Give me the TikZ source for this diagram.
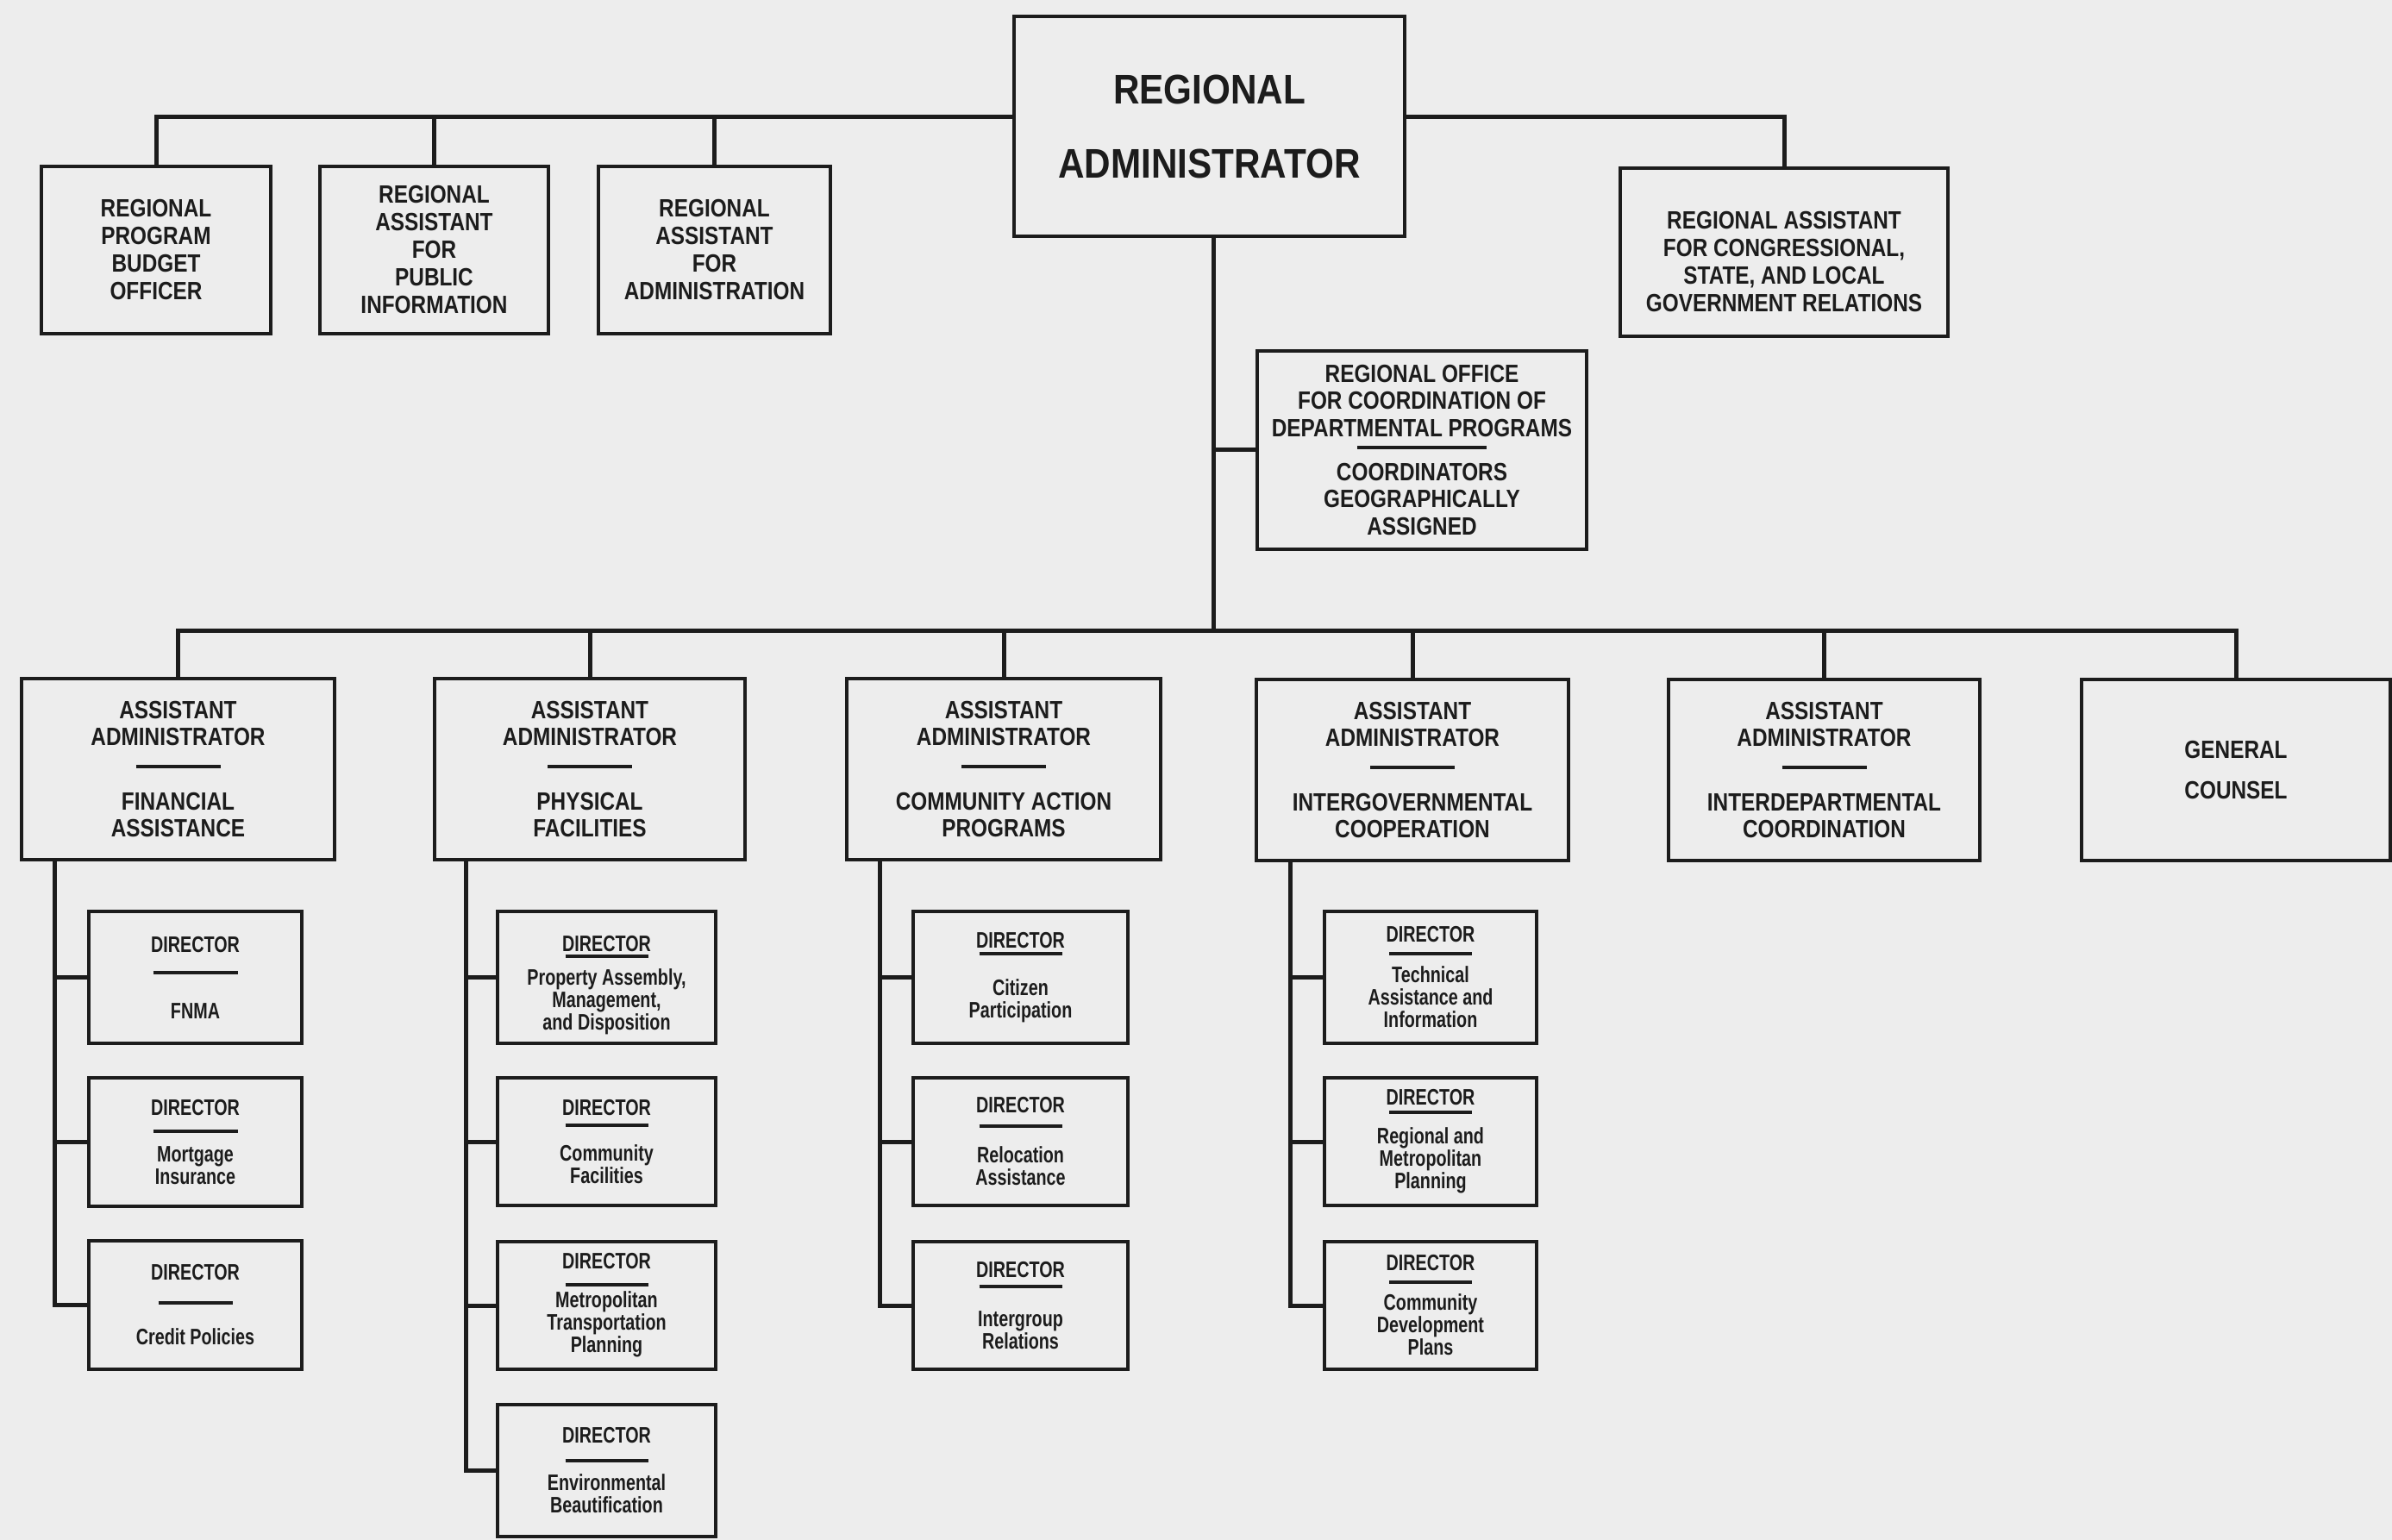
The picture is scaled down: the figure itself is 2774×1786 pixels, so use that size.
\documentclass[tikz,border=0pt]{standalone}
\usepackage{fontspec}
\setmainfont{Liberation Sans}[FakeStretch=0.84]
\newfontfamily\bigfont{Liberation Sans}[FakeStretch=0.88]
\newfontfamily\dirfont{Liberation Sans}[FakeStretch=0.76]
\definecolor{inkc}{HTML}{1C1C1C}
\definecolor{paperc}{HTML}{EDEDED}
\newcommand\sepline[2]{\rule{#1}{#2}}
\newcommand\orgbox[7]{\node[#6, minimum width={(#4-#2)*0.5pt}, minimum height={(#5-#3)*0.5pt}] (#1) at ({(#2+#4)/2},{(#3+#5)/2}) {#7};}
\newcommand\dirbox[9]{\orgbox{#1}{#2}{#3}{#4}{#5}{orgnode,dirtext}{DIRECTOR\\[#6]\sepline{#8}{2pt}\\[#7]#9}}
\tikzset{
  orgnode/.style={draw=inkc, line width=2.3pt, inner sep=0pt, align=center, text=inkc},
  toptext/.style={font=\bfseries\fontsize{14.5}{16}\selectfont},
  captext/.style={font=\bfseries\fontsize{14.5}{15.5}\selectfont},
  bigtext/.style={font=\bigfont\bfseries\fontsize{24}{27}\selectfont},
  dirtext/.style={font=\dirfont\bfseries\fontsize{13}{13}\selectfont},
  conn/.style={draw=inkc, line width=2.5pt},
}
\begin{document}
\begin{tikzpicture}[x=0.5pt,y=-0.5pt]
\useasboundingbox (0,0) rectangle (2774,1786);
\fill[paperc] (0,0) rectangle (2774,1786);

% top level
\orgbox{adm}{1176}{19}{1629}{274}{orgnode,bigtext}{REGIONAL\\[16pt]ADMINISTRATOR}
\orgbox{bud}{48}{193}{314}{387}{orgnode,toptext}{REGIONAL\\PROGRAM\\BUDGET\\OFFICER}
\orgbox{pub}{371}{193}{636}{387}{orgnode,toptext}{REGIONAL\\ASSISTANT\\FOR\\PUBLIC\\INFORMATION}
\orgbox{admn}{694}{193}{963}{387}{orgnode,toptext}{REGIONAL\\ASSISTANT\\FOR\\ADMINISTRATION}
\orgbox{cong}{1879}{195}{2259}{390}{orgnode,toptext}{\rule{0pt}{21pt}REGIONAL ASSISTANT\\FOR CONGRESSIONAL,\\STATE, AND LOCAL\\GOVERNMENT RELATIONS}
\orgbox{rocdp}{1458}{407}{1840}{637}{orgnode,font=\bfseries\fontsize{14.5}{15.75}\selectfont}{REGIONAL OFFICE\\FOR COORDINATION OF\\DEPARTMENTAL PROGRAMS\\[-8.25pt]\sepline{75pt}{2.2pt}\\[2.25pt]COORDINATORS\\GEOGRAPHICALLY\\ASSIGNED}

% assistant administrators
\orgbox{aaF}{25}{787}{388}{997}{orgnode,captext}{ASSISTANT\\ADMINISTRATOR\\[-2pt]\sepline{49pt}{2.4pt}\\[8.5pt]FINANCIAL\\ASSISTANCE}
\orgbox{aaP}{504}{787}{864}{997}{orgnode,captext}{ASSISTANT\\ADMINISTRATOR\\[-2pt]\sepline{49pt}{2.4pt}\\[8.5pt]PHYSICAL\\FACILITIES}
\orgbox{aaC}{982}{787}{1346}{997}{orgnode,captext}{ASSISTANT\\ADMINISTRATOR\\[-2pt]\sepline{49pt}{2.4pt}\\[8.5pt]COMMUNITY ACTION\\PROGRAMS}
\orgbox{aaI}{1457}{788}{1819}{998}{orgnode,captext}{ASSISTANT\\ADMINISTRATOR\\[-2pt]\sepline{49pt}{2.4pt}\\[8.5pt]INTERGOVERNMENTAL\\COOPERATION}
\orgbox{aaD}{1935}{788}{2296}{998}{orgnode,captext}{ASSISTANT\\ADMINISTRATOR\\[-2pt]\sepline{49pt}{2.4pt}\\[8.5pt]INTERDEPARTMENTAL\\COORDINATION}
\orgbox{gc}{2414}{788}{2772}{998}{orgnode,captext}{GENERAL\\[8pt]COUNSEL}

% directors
\dirbox{dF1}{103}{1057}{350}{1210}{0pt}{12.5pt}{49pt}{FNMA}
\dirbox{dF2}{103}{1250}{350}{1399}{-2.5pt}{3.5pt}{49pt}{Mortgage\\Insurance}
\dirbox{dF3}{103}{1439}{350}{1588}{1pt}{10.5pt}{43pt}{Credit Policies}
\orgbox{dP1}{577}{1057}{830}{1210}{orgnode,dirtext}{\rule{0pt}{18pt}DIRECTOR\\[-9pt]\sepline{48pt}{2pt}\\[2.5pt]Property Assembly,\\Management,\\and Disposition}
\dirbox{dP2}{577}{1250}{830}{1398}{-6pt}{6.5pt}{48pt}{Community\\Facilities}
\dirbox{dP3}{577}{1440}{830}{1588}{-3pt}{-0.5pt}{48pt}{Metropolitan\\Transportation\\Planning}
\dirbox{dP4}{577}{1629}{830}{1782}{-2pt}{3.5pt}{48pt}{Environmental\\Beautification}
\dirbox{dC1}{1059}{1057}{1308}{1210}{-8.5pt}{10pt}{48pt}{Citizen\\Participation}
\dirbox{dC2}{1059}{1250}{1308}{1398}{-4.5pt}{7.5pt}{48pt}{Relocation\\Assistance}
\dirbox{dC3}{1059}{1440}{1308}{1588}{-6.5pt}{9pt}{48pt}{Intergroup\\Relations}
\dirbox{dI1}{1536}{1057}{1782}{1210}{-5.5pt}{3pt}{48pt}{Technical\\Assistance and\\Information}
\dirbox{dI2}{1536}{1250}{1782}{1398}{-8pt}{4.5pt}{48pt}{Regional and\\Metropolitan\\Planning}
\dirbox{dI3}{1536}{1440}{1782}{1588}{-5.5pt}{2.5pt}{48pt}{Community\\Development\\Plans}

% bus coordinates
\coordinate (tbus) at (1176,136);
\coordinate (mbus) at (1407,731);
\coordinate (cF) at (63,0);
\coordinate (cP) at (540,0);
\coordinate (cC) at (1020,0);
\coordinate (cI) at (1496,0);

% top connectors
\draw[conn] (bud.north) |- (adm.west |- tbus);
\draw[conn] (pub.north) -- (pub.north |- tbus);
\draw[conn] (admn.north) -- (admn.north |- tbus);
\draw[conn] (adm.east |- tbus) -| (cong.north);
\draw[conn] (adm.south -| mbus) -- (mbus);
\draw[conn] (rocdp.west) -- (rocdp.west -| mbus);

% main bus
\draw[conn] (aaF.north) |- (gc.north |- mbus) -- (gc.north);
\draw[conn] (aaP.north) -- (aaP.north |- mbus);
\draw[conn] (aaC.north) -- (aaC.north |- mbus);
\draw[conn] (aaI.north) -- (aaI.north |- mbus);
\draw[conn] (aaD.north) -- (aaD.north |- mbus);

% director columns
\draw[conn] (aaF.south -| cF) |- (dF3.west);
\draw[conn] (dF1.west) -- (dF1.west -| cF);
\draw[conn] (dF2.west) -- (dF2.west -| cF);

\draw[conn] (aaP.south -| cP) |- (dP4.west);
\draw[conn] (dP1.west) -- (dP1.west -| cP);
\draw[conn] (dP2.west) -- (dP2.west -| cP);
\draw[conn] (dP3.west) -- (dP3.west -| cP);

\draw[conn] (aaC.south -| cC) |- (dC3.west);
\draw[conn] (dC1.west) -- (dC1.west -| cC);
\draw[conn] (dC2.west) -- (dC2.west -| cC);

\draw[conn] (aaI.south -| cI) |- (dI3.west);
\draw[conn] (dI1.west) -- (dI1.west -| cI);
\draw[conn] (dI2.west) -- (dI2.west -| cI);
\end{tikzpicture}
\end{document}
